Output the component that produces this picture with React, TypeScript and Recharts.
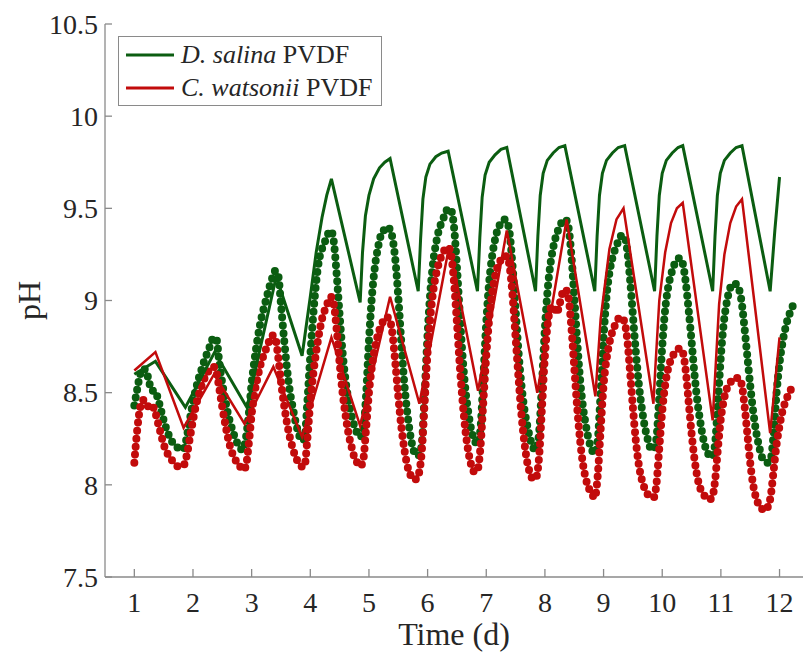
import { Line, LineChart, XAxis, YAxis } from "recharts";

// measured pH, one sample every 0.05 d starting at day 1
const SAMPLE_START = 1;
const SAMPLE_STEP = 0.05;

const salinaMeasured = [
  8.43, 8.52, 8.6, 8.63, 8.62, 8.56, 8.51, 8.51, 8.47, 8.41, 8.35, 8.3, 8.26, 8.23, 8.21, 8.2, 8.19, 8.2,
  8.27, 8.36, 8.45, 8.52, 8.58, 8.63, 8.68, 8.72, 8.76, 8.8, 8.79, 8.66, 8.55, 8.46, 8.38, 8.32, 8.27, 8.23, 8.2, 8.19,
  8.25, 8.38, 8.55, 8.68, 8.79, 8.88, 8.95, 9.01, 9.07, 9.12, 9.16, 9.14, 8.98, 8.8, 8.64, 8.51, 8.42, 8.34, 8.28, 8.24,
  8.25, 8.45, 8.7, 8.92, 9.1, 9.22, 9.28, 9.32, 9.36, 9.38, 9.32, 9.14, 8.92, 8.72, 8.57, 8.46, 8.38, 8.32, 8.28, 8.26,
  8.29, 8.48, 8.78, 9.02, 9.18, 9.28, 9.35, 9.38, 9.4, 9.39, 9.34, 9.22, 9.02, 8.78, 8.56, 8.4, 8.28, 8.2, 8.16, 8.16,
  8.22, 8.5, 8.82, 9.06, 9.22, 9.32, 9.39, 9.43, 9.47, 9.5, 9.49, 9.4, 9.18, 8.92, 8.68, 8.5, 8.38, 8.29, 8.24, 8.22,
  8.3, 8.58, 8.88, 9.1, 9.24, 9.33, 9.39, 9.42, 9.44, 9.43, 9.36, 9.18, 8.95, 8.72, 8.54, 8.41, 8.32, 8.25, 8.2, 8.19,
  8.28, 8.55, 8.85, 9.07, 9.21, 9.3, 9.36, 9.4, 9.43, 9.44, 9.4, 9.25, 9.02, 8.78, 8.57, 8.42, 8.32, 8.24, 8.19, 8.17,
  8.24, 8.5, 8.8, 9.02, 9.15, 9.23, 9.28, 9.32, 9.35, 9.35, 9.28, 9.12, 8.92, 8.72, 8.55, 8.42, 8.32, 8.25, 8.2, 8.19,
  8.25, 8.48, 8.75, 8.95, 9.07, 9.14, 9.19, 9.22, 9.23, 9.2, 9.1, 8.95, 8.78, 8.6, 8.45, 8.34, 8.25, 8.19, 8.16, 8.15,
  8.22, 8.45, 8.7, 8.88, 8.99, 9.06, 9.09, 9.09, 9.07, 9.0, 8.86, 8.7, 8.54, 8.4, 8.29, 8.21, 8.15, 8.13, 8.12, 8.14,
  8.28, 8.5, 8.66, 8.77, 8.85, 8.91, 8.95, 8.99,
];

const watsoniiMeasured = [
  8.12, 8.3, 8.42, 8.46, 8.45, 8.42, 8.43, 8.4, 8.34, 8.28, 8.22, 8.18, 8.15, 8.13, 8.11, 8.1, 8.1, 8.11,
  8.17, 8.26, 8.35, 8.43, 8.49, 8.54, 8.58, 8.61, 8.63, 8.64, 8.61, 8.52, 8.42, 8.33, 8.25, 8.19, 8.15, 8.12, 8.1, 8.08,
  8.1, 8.22, 8.38, 8.5, 8.58, 8.65, 8.7, 8.74, 8.78, 8.81, 8.8, 8.7, 8.56, 8.44, 8.34, 8.26, 8.2, 8.15, 8.12, 8.1,
  8.1, 8.25, 8.45, 8.6, 8.72, 8.82, 8.9, 8.95, 8.99, 9.02, 8.98, 8.84, 8.66, 8.5, 8.38, 8.28, 8.21, 8.15, 8.12, 8.1,
  8.13, 8.3, 8.5, 8.64, 8.74, 8.81, 8.86, 8.89, 8.91, 8.9, 8.82, 8.66, 8.48, 8.32, 8.2, 8.11, 8.06, 8.03, 8.03, 8.06,
  8.18, 8.45, 8.72, 8.92, 9.06, 9.15, 9.21, 9.25, 9.28, 9.29, 9.25, 9.1, 8.88, 8.64, 8.44, 8.28, 8.17, 8.1, 8.07, 8.08,
  8.2, 8.45, 8.7, 8.9, 9.04, 9.13, 9.19, 9.22, 9.24, 9.24, 9.18, 9.02, 8.8, 8.58, 8.38, 8.23, 8.12, 8.06, 8.03, 8.04,
  8.15, 8.42, 8.7, 8.88, 8.96, 8.97, 8.93, 8.98, 9.04, 9.06, 9.02, 8.86, 8.64, 8.42, 8.24, 8.11, 8.03, 7.98, 7.95, 7.93,
  8.05, 8.3, 8.54, 8.68, 8.77, 8.83, 8.87, 8.9, 8.91, 8.89, 8.8, 8.62, 8.42, 8.24, 8.11, 8.03, 7.98, 7.95, 7.94, 7.93,
  8.0, 8.2, 8.4, 8.54, 8.63, 8.68, 8.71, 8.73, 8.74, 8.72, 8.62, 8.45, 8.28, 8.14, 8.04, 7.98, 7.95, 7.93, 7.92, 7.93,
  8.02, 8.2, 8.36, 8.46, 8.52, 8.55, 8.57, 8.58, 8.58, 8.55, 8.44, 8.28, 8.12, 8.0, 7.93, 7.89, 7.87, 7.86, 7.88, 7.94,
  8.08, 8.22, 8.32, 8.4, 8.45, 8.49, 8.52, 8.54,
];

// model curves, [day, pH] vertices
const salinaModel: [number, number][] = [
  [1.0, 8.6], [1.36, 8.67], [1.87, 8.42], [2.37, 8.72], [2.92, 8.42], [3.42, 9.13], [3.86, 8.7],
  [4.0, 9.02], [4.1, 9.26], [4.2, 9.45], [4.28, 9.57], [4.36, 9.66],
  [4.85, 8.99], [4.89, 9.26], [4.94, 9.46], [5.0, 9.57], [5.08, 9.66], [5.18, 9.72], [5.27, 9.75], [5.36, 9.77],
  [5.84, 9.05], [5.88, 9.33], [5.92, 9.55], [5.97, 9.67], [6.04, 9.74], [6.14, 9.78], [6.24, 9.8], [6.35, 9.81],
  [6.85, 9.05], [6.89, 9.34], [6.93, 9.56], [6.98, 9.68], [7.05, 9.75], [7.15, 9.79], [7.25, 9.82], [7.35, 9.83],
  [7.84, 9.05], [7.88, 9.35], [7.92, 9.57], [7.97, 9.69], [8.04, 9.76], [8.14, 9.8], [8.24, 9.83], [8.34, 9.84],
  [8.85, 9.05], [8.89, 9.35], [8.93, 9.57], [8.98, 9.69], [9.05, 9.76], [9.15, 9.8], [9.25, 9.83], [9.36, 9.84],
  [9.87, 9.05], [9.91, 9.35], [9.95, 9.57], [10.0, 9.69], [10.07, 9.76], [10.17, 9.8], [10.27, 9.83], [10.35, 9.84],
  [10.86, 9.05], [10.9, 9.35], [10.94, 9.57], [10.99, 9.69], [11.06, 9.76], [11.16, 9.8], [11.26, 9.83], [11.36, 9.84],
  [11.84, 9.05], [11.92, 9.38], [12.0, 9.67],
];

const watsoniiModel: [number, number][] = [
  [1.0, 8.62], [1.36, 8.72], [1.84, 8.31], [2.36, 8.6], [2.88, 8.33], [3.37, 8.64], [3.86, 8.26],
  [4.36, 8.8], [4.85, 8.32], [5.36, 9.02], [5.86, 8.44], [6.37, 9.3], [6.86, 8.51], [7.35, 9.38],
  [7.87, 8.5], [8.37, 9.44], [8.86, 8.48], [8.95, 8.9], [9.1, 9.28], [9.22, 9.44], [9.34, 9.5],
  [9.85, 8.44], [9.88, 8.62], [9.95, 9.0], [10.05, 9.26], [10.15, 9.42], [10.25, 9.5], [10.35, 9.53],
  [10.86, 8.35], [10.9, 8.58], [10.97, 8.98], [11.06, 9.25], [11.16, 9.42], [11.26, 9.51], [11.36, 9.55],
  [11.84, 8.28], [12.0, 8.8],
];

const xTicks = [1, 2, 3, 4, 5, 6, 7, 8, 9, 10, 11, 12];
const yTicks = [7.5, 8, 8.5, 9, 9.5, 10, 10.5];

const GREEN = "#0b5d11";
const RED = "#c20b0b";
const AXIS = "#8a8a8a";
const TEXT = "#262626";
const FONT = '"Liberation Serif", "Times New Roman", serif';

const toSamples = (values: number[]) =>
  values.map((ph, i) => ({ t: +(SAMPLE_START + i * SAMPLE_STEP).toFixed(2), ph }));
const toPoints = (pairs: [number, number][]) => pairs.map(([t, ph]) => ({ t, ph }));

// ticks point into the plot, like the original figure
const YTick = (props: any) => {
  const { x, y, payload } = props;
  return (
    <g>
      <line x1={x} x2={x + 7} y1={y} y2={y} stroke={AXIS} strokeWidth={1.3} />
      <text x={x - 7} y={y} dy="0.35em" textAnchor="end" fontFamily={FONT} fontSize={28} fill={TEXT}>
        {payload.value}
      </text>
    </g>
  );
};

const XTick = (props: any) => {
  const { x, y, payload } = props;
  return (
    <g>
      <line x1={x} x2={x} y1={y} y2={y - 8} stroke={AXIS} strokeWidth={1.3} />
      <text x={x} y={y + 35} textAnchor="middle" fontFamily={FONT} fontSize={28} fill={TEXT}>
        {payload.value}
      </text>
    </g>
  );
};

function LegendBox() {
  const row = (color: string, species: string, top: number) => (
    <div style={{ position: "absolute", left: 0, top, height: 30, display: "flex", alignItems: "center" }}>
      <svg width={62} height={30}>
        <line x1={7} x2={55} y1={15} y2={15} stroke={color} strokeWidth={3} />
      </svg>
      <span style={{ fontFamily: FONT, fontSize: 26, color: TEXT, whiteSpace: "nowrap" }}>
        <i>{species}</i> PVDF
      </span>
    </div>
  );
  return (
    <div
      style={{
        position: "absolute",
        left: 118,
        top: 36,
        width: 264,
        height: 70,
        border: `1px solid ${AXIS}`,
        background: "#fff",
        boxSizing: "border-box",
      }}
    >
      {row(GREEN, "D. salina", 3)}
      {row(RED, "C. watsonii", 36)}
    </div>
  );
}

export default function App() {
  // measured series drawn as a chain of round beads
  const beads = { strokeWidth: 8, strokeDasharray: "0 8", strokeLinecap: "round" as const };

  return (
    <div style={{ position: "relative", width: 803, height: 652, background: "#fff" }}>
      <style>{"body{margin:0}"}</style>
      <LineChart width={803} height={652} margin={{ top: 24, right: 0, bottom: 74, left: 104 }}>
        <XAxis
          type="number"
          dataKey="t"
          domain={[0.5, 12.4]}
          ticks={xTicks}
          allowDataOverflow
          height={1}
          tickSize={0}
          tickMargin={0}
          tickLine={false}
          tick={<XTick />}
          axisLine={{ stroke: AXIS, strokeWidth: 1.3 }}
          label={{
            content: ({ viewBox }: any) => (
              <text
                x={viewBox.x + viewBox.width / 2}
                y={viewBox.y + 68}
                textAnchor="middle"
                fontFamily={FONT}
                fontSize={32}
                fill={TEXT}
              >
                Time (d)
              </text>
            ),
          }}
        />
        <YAxis
          type="number"
          domain={[7.5, 10.5]}
          ticks={yTicks}
          allowDataOverflow
          width={1}
          tickSize={0}
          tickMargin={0}
          tickLine={false}
          tick={<YTick />}
          axisLine={{ stroke: AXIS, strokeWidth: 1.3 }}
          label={{
            content: ({ viewBox }: any) => {
              const cx = viewBox.x - 75;
              const cy = viewBox.y + viewBox.height / 2;
              return (
                <text
                  x={cx}
                  y={cy}
                  dy="0.35em"
                  textAnchor="middle"
                  transform={`rotate(-90 ${cx} ${cy})`}
                  fontFamily={FONT}
                  fontSize={32}
                  fill={TEXT}
                >
                  pH
                </text>
              );
            },
          }}
        />
        <Line
          data={toSamples(salinaMeasured)}
          dataKey="ph"
          type="monotone"
          stroke={GREEN}
          {...beads}
          dot={false}
          isAnimationActive={false}
        />
        <Line
          data={toSamples(watsoniiMeasured)}
          dataKey="ph"
          type="monotone"
          stroke={RED}
          {...beads}
          dot={false}
          isAnimationActive={false}
        />
        <Line
          data={toPoints(salinaModel)}
          dataKey="ph"
          type="linear"
          stroke={GREEN}
          strokeWidth={3}
          dot={false}
          isAnimationActive={false}
        />
        <Line
          data={toPoints(watsoniiModel)}
          dataKey="ph"
          type="linear"
          stroke={RED}
          strokeWidth={2.5}
          dot={false}
          isAnimationActive={false}
        />
      </LineChart>
      <LegendBox />
    </div>
  );
}
